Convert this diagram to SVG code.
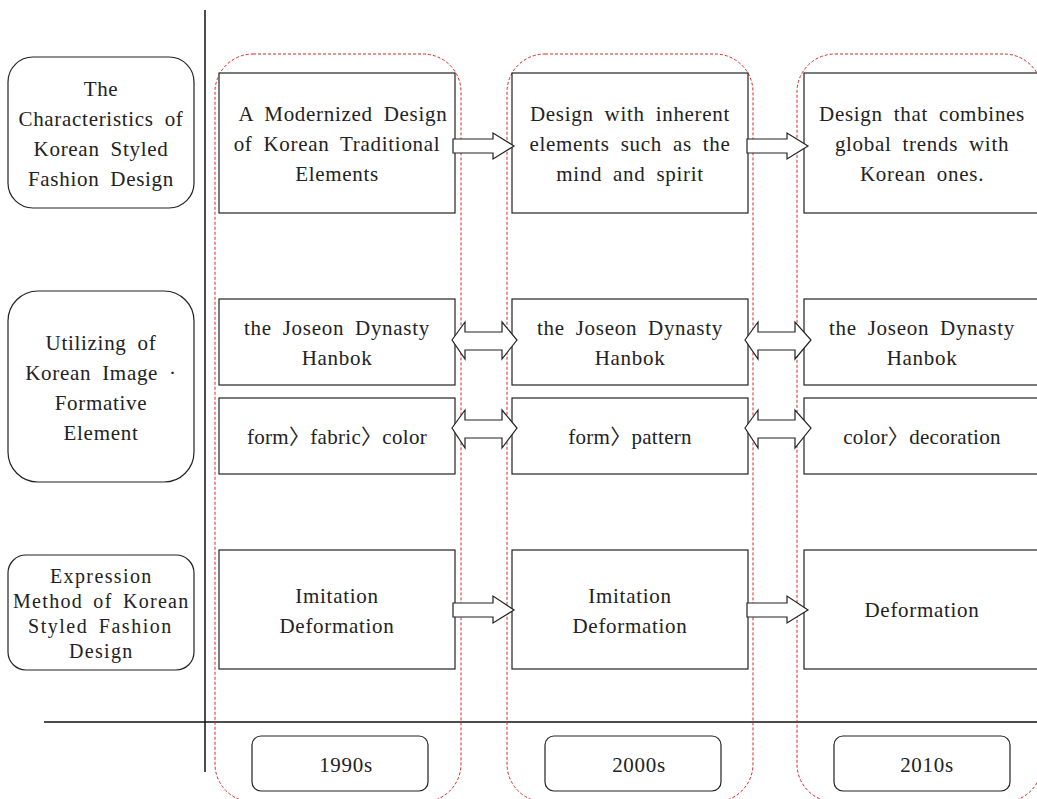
<svg xmlns="http://www.w3.org/2000/svg" width="1037" height="799" viewBox="0 0 1037 799" font-family="'Liberation Serif', 'Times New Roman', 'DejaVu Serif', serif">
<style>
.t{font-size:21px;fill:#222;text-anchor:middle;word-spacing:5px;letter-spacing:0.7px}
.s{font-size:20px;word-spacing:4px}
.u{letter-spacing:0.3px;word-spacing:0}
.lbl{fill:#fff;stroke:#222;stroke-width:1.2}
.box{fill:#fff;stroke:#222;stroke-width:1.2}
.col{fill:none;stroke:#d62828;stroke-width:1;stroke-dasharray:3,2}
.ar{fill:#fff;stroke:#222;stroke-width:1.2;stroke-linejoin:miter}
.ax{stroke:#111;stroke-width:1.5}
</style>
<rect width="1037" height="799" fill="#fff"/>
<g id="axes">
<line class="ax" x1="205" y1="10" x2="205" y2="772"/>
<line class="ax" x1="44" y1="722" x2="1037" y2="722"/>
</g>
<g id="columns">
<rect class="col" x="215" y="54" width="246" height="748" rx="38"/>
<rect class="col" x="507" y="54" width="246" height="748" rx="38"/>
<rect class="col" x="797" y="54" width="245" height="748" rx="38"/>
</g>
<g id="label-characteristics">
<rect class="lbl" x="8" y="57" width="186" height="151" rx="25"/>
<text class="t" x="101" y="96">The</text>
<text class="t" x="101" y="126">Characteristics of</text>
<text class="t" x="101" y="156">Korean Styled</text>
<text class="t" x="101" y="186">Fashion Design</text>
</g>
<g id="label-utilizing">
<rect class="lbl" x="8" y="291" width="186" height="191" rx="30"/>
<text class="t" x="101" y="350">Utilizing of</text>
<text class="t" x="101" y="380">Korean Image ·</text>
<text class="t" x="101" y="410">Formative</text>
<text class="t" x="101" y="440">Element</text>
</g>
<g id="label-expression">
<rect class="lbl" x="8" y="555" width="186" height="115" rx="18"/>
<text class="t s" x="101" y="583" textLength="102">Expression</text>
<text class="t s" x="101" y="608" textLength="176">Method of Korean</text>
<text class="t s" x="100" y="633" textLength="144">Styled Fashion</text>
<text class="t s" x="101" y="658" textLength="64">Design</text>
</g>
<g id="r1c1"><rect class="box" x="219" y="73" width="236" height="140"/>
<text class="t" x="343" y="121">A Modernized Design</text>
<text class="t" x="337" y="151">of Korean Traditional</text>
<text class="t" x="337" y="181">Elements</text></g>
<g id="r1c2"><rect class="box" x="512" y="73" width="236" height="140"/>
<text class="t" x="630" y="121">Design with inherent</text>
<text class="t" x="630" y="151">elements such as the</text>
<text class="t" x="630" y="181">mind and spirit</text></g>
<g id="r1c3"><rect class="box" x="804" y="73" width="240" height="140"/>
<text class="t" x="922" y="121">Design that combines</text>
<text class="t" x="922" y="151">global trends with</text>
<text class="t" x="922" y="181">Korean ones.</text></g>
<g id="r2c1"><rect class="box" x="219" y="299" width="236" height="86"/>
<text class="t" x="337" y="335">the Joseon Dynasty</text>
<text class="t" x="337" y="365">Hanbok</text></g>
<g id="r2c2"><rect class="box" x="512" y="299" width="236" height="86"/>
<text class="t" x="630" y="335">the Joseon Dynasty</text>
<text class="t" x="630" y="365">Hanbok</text></g>
<g id="r2c3"><rect class="box" x="804" y="299" width="240" height="86"/>
<text class="t" x="922" y="335">the Joseon Dynasty</text>
<text class="t" x="922" y="365">Hanbok</text></g>
<g id="r3c1"><rect class="box" x="219" y="398" width="236" height="76"/>
<text class="t u" x="337" y="444" font-family="'Liberation Serif', 'Noto Sans CJK KR', serif">form〉fabric〉color</text></g>
<g id="r3c2"><rect class="box" x="512" y="398" width="236" height="76"/>
<text class="t u" x="630" y="444" font-family="'Liberation Serif', 'Noto Sans CJK KR', serif">form〉pattern</text></g>
<g id="r3c3"><rect class="box" x="804" y="398" width="240" height="76"/>
<text class="t u" x="922" y="444" font-family="'Liberation Serif', 'Noto Sans CJK KR', serif">color〉decoration</text></g>
<g id="r4c1"><rect class="box" x="219" y="550" width="236" height="119"/>
<text class="t" x="337" y="603">Imitation</text>
<text class="t" x="337" y="633">Deformation</text></g>
<g id="r4c2"><rect class="box" x="512" y="550" width="236" height="119"/>
<text class="t" x="630" y="603">Imitation</text>
<text class="t" x="630" y="633">Deformation</text></g>
<g id="r4c3"><rect class="box" x="804" y="550" width="240" height="119"/>
<text class="t" x="922" y="617">Deformation</text></g>
<g id="p1990"><rect class="lbl" x="252" y="736" width="176" height="55" rx="9"/>
<text class="t" x="346" y="772">1990s</text></g>
<g id="p2000"><rect class="lbl" x="545" y="736" width="176" height="55" rx="9"/>
<text class="t" x="639" y="772">2000s</text></g>
<g id="p2010"><rect class="lbl" x="834" y="736" width="176" height="55" rx="9"/>
<text class="t" x="927" y="772">2010s</text></g>
<g id="connectors">
<path class="ar" d="M453,139 H493 V133 L514,146 L493,159 V153 H453 Z"/>
<path class="ar" d="M747,139 H787 V133 L808,146 L787,159 V153 H747 Z"/>
<path class="ar" d="M453,603 H493 V596 L514,610 L493,623 V617 H453 Z"/>
<path class="ar" d="M747,603 H787 V596 L808,610 L787,623 V617 H747 Z"/>
<path class="ar" d="M452,340 L465,322 V332 H502 V322 L517,340 L502,359 V350 H465 V359 Z"/>
<path class="ar" d="M452,428 L465,410 V420 H502 V410 L517,428 L502,448 V438 H465 V448 Z"/>
<path class="ar" d="M745,340 L758,322 V332 H795 V322 L811,340 L795,359 V350 H758 V359 Z"/>
<path class="ar" d="M745,428 L758,410 V420 H795 V410 L811,428 L795,448 V438 H758 V448 Z"/>
</g>
</svg>
